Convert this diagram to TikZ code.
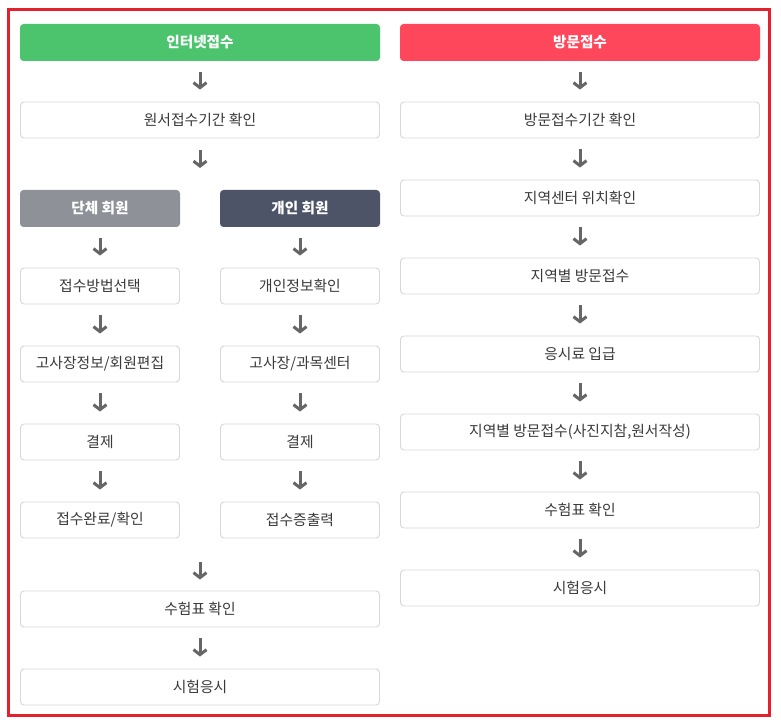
\documentclass[tikz,border=0pt]{standalone}
\usepackage{fontspec}
\setmainfont{Noto Sans CJK KR}
\usetikzlibrary{arrows.meta}
\definecolor{frameRed}{HTML}{E3202B}
\definecolor{hdGreen}{HTML}{4CC46E}
\definecolor{hdRed}{HTML}{FF475C}
\definecolor{hdGray}{HTML}{8F9199}
\definecolor{hdSlate}{HTML}{4E5468}
\definecolor{boxLine}{HTML}{D8D8D8}
\definecolor{txt}{HTML}{3A3A3A}
\definecolor{arrGray}{HTML}{666666}
\tikzset{
  stepbox/.style={draw=boxLine, line width=0.9pt, fill=white, rounded corners=3.5pt,
    minimum height=36pt, inner sep=0pt, text=txt, font=\fontsize{14.8pt}{17pt}\selectfont},
  wide/.style={minimum width=359pt},
  half/.style={minimum width=159pt},
  header/.style={fill=#1, rounded corners=3.5pt, minimum height=37pt, inner sep=0pt,
    text=white, font=\fontsize{14.6pt}{17pt}\selectfont\bfseries},
  arr/.style={draw=arrGray, line width=3pt, -{Straight Barb[length=5pt,width=13pt,line width=3pt]}}
}
\begin{document}
\begin{tikzpicture}[x=1pt,y=-1pt]
\useasboundingbox (0,0) rectangle (781,727);
\fill[white] (0,0) rectangle (781,727);
\draw[frameRed, line width=3pt] (8.5,9.5) rectangle (769.5,715.5);

% left column
\node[header=hdGreen, minimum width=360pt] (l0) at (200,42.5) {인터넷접수};
\node[stepbox, wide] (l1) at (200,120) {원서접수기간 확인};
\coordinate (lsplit) at (200,190);
\node[header=hdGray, minimum width=160pt] (g0) at (100,208.5) {단체 회원};
\node[header=hdSlate, minimum width=160pt] (p0) at (300,208.5) {개인 회원};
\node[stepbox, half] (g1) at (100,286) {접수방법선택};
\node[stepbox, half] (g2) at (100,364) {고사장정보/회원편집};
\node[stepbox, half] (g3) at (100,442) {결제};
\node[stepbox, half] (g4) at (100,520) {접수완료/확인};
\node[stepbox, half] (p1) at (300,286) {개인정보확인};
\node[stepbox, half] (p2) at (300,364) {고사장/과목센터};
\node[stepbox, half] (p3) at (300,442) {결제};
\node[stepbox, half] (p4) at (300,520) {접수증출력};
\coordinate (lmerge) at (200,538);
\node[stepbox, wide] (l2) at (200,609) {수험표 확인};
\node[stepbox, wide] (l3) at (200,687) {시험응시};

% right column
\node[header=hdRed, minimum width=360pt] (r0) at (580,42.5) {방문접수};
\node[stepbox, wide] (r1) at (580,120) {방문접수기간 확인};
\node[stepbox, wide] (r2) at (580,198) {지역센터 위치확인};
\node[stepbox, wide] (r3) at (580,276) {지역별 방문접수};
\node[stepbox, wide] (r4) at (580,354) {응시료 입급};
\node[stepbox, wide] (r5) at (580,432) {지역별 방문접수(사진지참,원서작성)};
\node[stepbox, wide] (r6) at (580,510) {수험표 확인};
\node[stepbox, wide] (r7) at (580,588) {시험응시};

% arrows
\foreach \a/\b in {l0/l1,g0/g1,g1/g2,g2/g3,g3/g4,p0/p1,p1/p2,p2/p3,p3/p4,l2/l3,
                   r0/r1,r1/r2,r2/r3,r3/r4,r4/r5,r5/r6,r6/r7}
  \draw[arr, shorten <=11pt, shorten >=12pt] (\a.south) -- (\b.north);
\draw[arr, shorten <=12pt, shorten >=22pt] (l1.south) -- (lsplit);
\draw[arr, shorten <=24pt, shorten >=11pt] (lmerge) -- (l2.north);
\end{tikzpicture}
\end{document}
